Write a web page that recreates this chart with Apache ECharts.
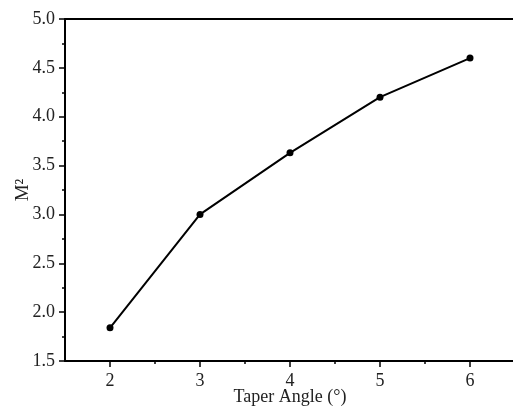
<!DOCTYPE html>
<html><head><meta charset="utf-8">
<script src="https://cdn.jsdelivr.net/npm/echarts@6/dist/echarts.min.js"></script>
<style>html,body{margin:0;padding:0;background:#fff;}#c{width:513px;height:409px;}</style>
</head><body><div id="c"></div>
<script>
const taperAngles = [2, 3, 4, 5, 6];
const m2Values = [1.84, 3.0, 3.63, 4.2, 4.6];
const xTicks = [2, 3, 4, 5, 6];
const xMinorTicks = [2.5, 3.5, 4.5, 5.5];

const font = 'Liberation Serif';
const chart = echarts.init(document.getElementById('c'), null, {renderer: 'canvas'});
chart.setOption({
  animation: false,
  backgroundColor: '#fff',
  grid: {left: 65, top: 19, width: 450, height: 342, containLabel: false, outerBoundsMode: 'none'},
  xAxis: [{
    type: 'value', min: 1.5, max: 6.5, interval: 0.5,
    name: 'Taper Angle (°)', nameLocation: 'middle', nameGap: 27, nameMoveOverlap: false,
    nameTextStyle: {fontFamily: font, fontSize: 18, color: '#222'},
    axisLine: {show: true, onZero: false, lineStyle: {color: '#000', width: 2}},
    axisTick: {show: true, length: 6, lineStyle: {color: '#000', width: 1.5},
      customValues: xTicks},
    axisLabel: {fontFamily: font, fontSize: 18, color: '#222', margin: 11,
      customValues: xTicks, formatter: v => String(v)},
    splitLine: {show: false}
  }, {
    type: 'value', position: 'top', min: 1.5, max: 6.5,
    axisLine: {show: true, onZero: false, lineStyle: {color: '#000', width: 2}},
    axisTick: {show: false}, axisLabel: {show: false}, splitLine: {show: false}
  }, {
    type: 'value', position: 'bottom', offset: 0, min: 1.5, max: 6.5, interval: 0.5,
    axisLine: {show: false, onZero: false},
    axisTick: {show: true, length: 3, lineStyle: {color: '#000', width: 1.5},
      customValues: xMinorTicks},
    axisLabel: {show: false}, splitLine: {show: false}
  }],
  yAxis: {
    type: 'value', min: 1.5, max: 5.0, interval: 0.5,
    name: 'M²', nameLocation: 'middle', nameGap: 32, nameMoveOverlap: false,
    nameTextStyle: {fontFamily: font, fontSize: 19, color: '#222'},
    axisLine: {show: true, onZero: false, lineStyle: {color: '#000', width: 2}},
    axisTick: {show: true, length: 6, lineStyle: {color: '#000', width: 1.5}},
    minorTick: {show: true, splitNumber: 2, length: 3, lineStyle: {color: '#000', width: 1.5}},
    axisLabel: {fontFamily: font, fontSize: 18, color: '#222', margin: 10,
      formatter: v => v.toFixed(1)},
    splitLine: {show: false}
  },
  series: [{
    type: 'line',
    data: taperAngles.map((x, i) => [x, m2Values[i]]),
    symbol: 'circle', symbolSize: 7,
    itemStyle: {color: '#000'},
    lineStyle: {color: '#000', width: 2}
  }]
});
</script></body></html>
